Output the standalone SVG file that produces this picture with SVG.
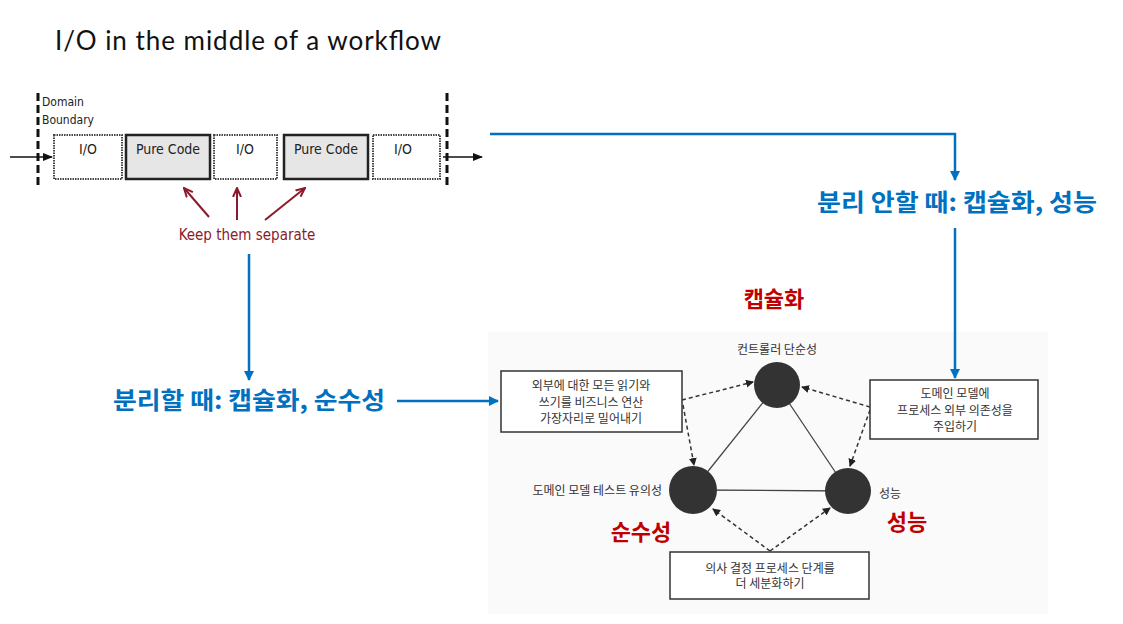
<svg xmlns="http://www.w3.org/2000/svg" width="1123" height="624" viewBox="0 0 1123 624">
<defs>
<style>
.title{font-family:Lato,"Open Sans",sans-serif;font-size:26px;fill:#111}
.hand{font-family:"DejaVu Sans Condensed","DejaVu Sans",sans-serif;font-size:14px;fill:#222}
.hand-s{font-family:"DejaVu Sans Condensed","DejaVu Sans",sans-serif;font-size:12px;fill:#222}
.keep{font-family:"DejaVu Sans Condensed","DejaVu Sans",sans-serif;font-size:15px;fill:#8b1a2b}
.blue{font-family:"Noto Sans CJK KR","Noto Sans",sans-serif;font-size:24px;font-weight:bold;fill:#0070C0}
.red{font-family:"Noto Sans CJK KR","Noto Sans",sans-serif;font-size:22px;font-weight:bold;fill:#C00000}
.kr{font-family:"Noto Sans CJK KR","Noto Sans",sans-serif;font-size:12px;fill:#333}
.io{fill:#fff;stroke:#444;stroke-width:2;stroke-dasharray:1.5 1}
.pure{fill:#e6e6e6;stroke:#222;stroke-width:2.5}
.bnd{stroke:#111;stroke-width:3;stroke-dasharray:8 4}
.bl{stroke:#0070C0;stroke-width:2.5;fill:none}
.rd{stroke:#8b1a2b;stroke-width:2;fill:none}
.blk{stroke:#111;stroke-width:1.5;fill:none}
.dash{stroke:#333;stroke-width:1.5;stroke-dasharray:4 3;fill:none}
.solid{stroke:#444;stroke-width:1.3;fill:none}
.box{fill:#fff;stroke:#333;stroke-width:1.5}
.circ{fill:#333}
</style>
<marker id="mBlue" markerWidth="10" markerHeight="10" refX="9" refY="5" orient="auto" markerUnits="userSpaceOnUse"><path d="M0,0 L10,5 L0,10 z" fill="#0070C0"/></marker>
<marker id="mRed" markerWidth="10" markerHeight="10" refX="9" refY="5" orient="auto" markerUnits="userSpaceOnUse"><path d="M0,1 L9,5 L0,9" fill="none" stroke="#8b1a2b" stroke-width="2"/></marker>
<marker id="mBlk" markerWidth="10" markerHeight="10" refX="9" refY="5" orient="auto" markerUnits="userSpaceOnUse"><path d="M0,1 L10,5 L0,9 z" fill="#111"/></marker>
<marker id="mDash" markerWidth="8" markerHeight="8" refX="7" refY="4" orient="auto" markerUnits="userSpaceOnUse"><path d="M0,0 L8,4 L0,8 z" fill="#222"/></marker>
</defs>
<rect width="1123" height="624" fill="#fff"/>
<rect x="488" y="332" width="560" height="282" fill="#fafafa"/>

<text class="title" x="55" y="50" textLength="386">I/O in the middle of a workflow</text>

<g id="boundary-left"><line class="bnd" x1="38" y1="93" x2="38" y2="187"/><text class="hand-s" x="42" y="106">Domain</text><text class="hand-s" x="42" y="124">Boundary</text></g>
<g id="boundary-right"><line class="bnd" x1="447" y1="93" x2="447" y2="187"/></g>

<g id="io1"><rect class="io" x="54" y="135" width="68" height="44"/><text class="hand" x="88" y="154" text-anchor="middle">I/O</text></g>
<g id="pure1"><rect class="pure" x="126" y="135" width="84" height="44"/><text class="hand" x="168" y="154" text-anchor="middle">Pure Code</text></g>
<g id="io2"><rect class="io" x="214" y="135" width="63" height="44"/><text class="hand" x="245" y="154" text-anchor="middle">I/O</text></g>
<g id="pure2"><rect class="pure" x="284" y="135" width="84" height="44"/><text class="hand" x="326" y="154" text-anchor="middle">Pure Code</text></g>
<g id="io3"><rect class="io" x="373" y="135" width="67" height="44"/><text class="hand" x="403" y="154" text-anchor="middle">I/O</text></g>

<g id="keep"><text class="keep" x="247" y="240" text-anchor="middle">Keep them separate</text></g>

<g id="label-separate"><text class="blue" x="113" y="409" textLength="272" lengthAdjust="spacingAndGlyphs">분리할 때: 캡슐화, 순수성</text></g>
<g id="label-not-separate"><text class="blue" x="817" y="211" textLength="280" lengthAdjust="spacingAndGlyphs">분리 안할 때: 캡슐화, 성능</text></g>

<g id="red-labels">
<text class="red" x="774" y="307" text-anchor="middle">캡슐화</text>
<text class="red" x="641" y="540" text-anchor="middle">순수성</text>
<text class="red" x="907" y="530" text-anchor="middle">성능</text>
</g>

<g id="connectors">
<line class="blk" x1="10" y1="157" x2="52" y2="157" marker-end="url(#mBlk)"/>
<line class="blk" x1="443" y1="157" x2="482" y2="157" marker-end="url(#mBlk)"/>
<line class="rd" x1="209" y1="217" x2="184" y2="188" marker-end="url(#mRed)"/>
<line class="rd" x1="237" y1="220" x2="237" y2="188" marker-end="url(#mRed)"/>
<line class="rd" x1="265" y1="220" x2="305" y2="188" marker-end="url(#mRed)"/>
<path class="bl" d="M490,134 H955 V180" marker-end="url(#mBlue)"/>
<line class="bl" x1="955" y1="228" x2="955" y2="378" marker-end="url(#mBlue)"/>
<line class="bl" x1="249" y1="254" x2="249" y2="380" marker-end="url(#mBlue)"/>
<line class="bl" x1="397" y1="401" x2="498" y2="401" marker-end="url(#mBlue)"/>
<line class="solid" x1="777" y1="385" x2="693" y2="490"/>
<line class="solid" x1="777" y1="385" x2="848" y2="491"/>
<line class="solid" x1="693" y1="490" x2="848" y2="491"/>
<line class="dash" x1="682" y1="400" x2="753" y2="382" marker-end="url(#mDash)"/>
<line class="dash" x1="683" y1="405" x2="694" y2="465" marker-end="url(#mDash)"/>
<line class="dash" x1="870" y1="407" x2="802" y2="387" marker-end="url(#mDash)"/>
<line class="dash" x1="870" y1="410" x2="850" y2="466" marker-end="url(#mDash)"/>
<line class="dash" x1="770" y1="551" x2="713" y2="509" marker-end="url(#mDash)"/>
<line class="dash" x1="770" y1="551" x2="830" y2="508" marker-end="url(#mDash)"/>
</g>

<g id="node-controller"><circle class="circ" cx="777" cy="385" r="23"/><text class="kr" x="777" y="354" text-anchor="middle">컨트롤러 단순성</text></g>
<g id="node-testability"><circle class="circ" cx="693" cy="490" r="24"/><text class="kr" x="662" y="495" text-anchor="end">도메인 모델 테스트 유의성</text></g>
<g id="node-performance"><circle class="circ" cx="848" cy="491" r="23"/><text class="kr" x="879" y="498">성능</text></g>

<g id="box-push"><rect class="box" x="501" y="371" width="181" height="61"/>
<text class="kr" x="591" y="390" text-anchor="middle">외부에 대한 모든 읽기와</text>
<text class="kr" x="591" y="407" text-anchor="middle">쓰기를 비즈니스 연산</text>
<text class="kr" x="591" y="423" text-anchor="middle">가장자리로 밀어내기</text></g>
<g id="box-inject"><rect class="box" x="870" y="380" width="168" height="59"/>
<text class="kr" x="955" y="398" text-anchor="middle">도메인 모델에</text>
<text class="kr" x="955" y="415" text-anchor="middle">프로세스 외부 의존성을</text>
<text class="kr" x="955" y="431" text-anchor="middle">주입하기</text></g>
<g id="box-split"><rect class="box" x="670" y="552" width="199" height="47"/>
<text class="kr" x="770" y="573" text-anchor="middle">의사 결정 프로세스 단계를</text>
<text class="kr" x="770" y="588" text-anchor="middle">더 세분화하기</text></g>
</svg>
